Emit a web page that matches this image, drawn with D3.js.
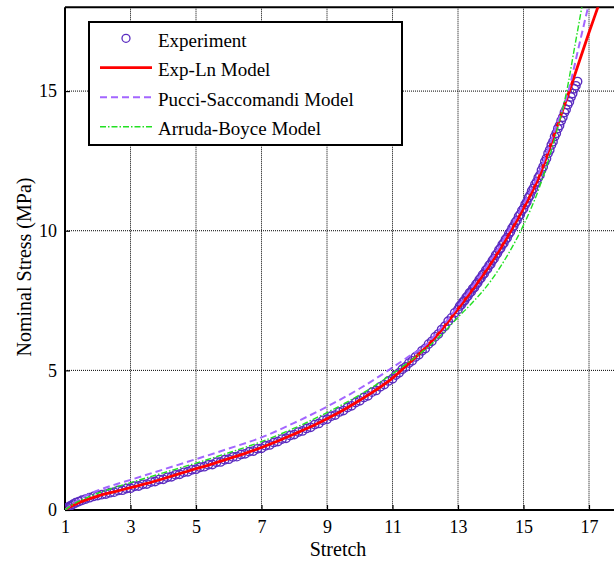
<!DOCTYPE html>
<html>
<head>
<meta charset="utf-8">
<script src="https://cdn.jsdelivr.net/npm/d3@7"></script>
<style>
  html, body { margin: 0; padding: 0; background: #fff; }
  svg { display: block; }
  text { font-family: "Liberation Serif", "Times New Roman", serif; fill: #000; }
</style>
</head>
<body>
<svg id="chart" width="614" height="564"></svg>
<script>
// ---------------- data ----------------
const xTicks = [1, 3, 5, 7, 9, 11, 13, 15, 17];
const yTicks = [0, 5, 10, 15];
const xLabel = "Stretch";
const yLabel = "Nominal Stress (MPa)";
const seriesNames = ["Experiment", "Exp-Ln Model", "Pucci-Saccomandi Model", "Arruda-Boyce Model"];

const expStretch = [
  1.0, 1.03, 1.07, 1.12, 1.18, 1.25, 1.33, 1.42, 1.52, 1.63, 1.75, 1.88, 2.0,
  2.125, 2.25, 2.375, 2.5, 2.625, 2.75, 2.875, 3.0, 3.125, 3.25, 3.375, 3.5, 3.625, 3.75, 3.875, 4.0,
  4.125, 4.25, 4.375, 4.5, 4.625, 4.75, 4.875, 5.0, 5.125, 5.25, 5.375, 5.5, 5.625, 5.75, 5.875, 6.0,
  6.125, 6.25, 6.375, 6.5, 6.625, 6.75, 6.875, 7.0, 7.125, 7.25, 7.375, 7.5, 7.625, 7.75, 7.875, 8.0,
  8.125, 8.25, 8.375, 8.5, 8.625, 8.75, 8.875, 9.0, 9.125, 9.25, 9.375, 9.5, 9.625, 9.75, 9.875, 10.0,
  10.125, 10.25, 10.375, 10.5, 10.625, 10.75, 10.875, 11.0,
  11.1, 11.2, 11.3, 11.4, 11.5, 11.6, 11.7, 11.8, 11.9, 12.0, 12.1, 12.2, 12.3, 12.4, 12.5, 12.6, 12.7, 12.8, 12.9, 13.0,
  13.05, 13.1, 13.15, 13.2, 13.25, 13.3, 13.35, 13.4, 13.45, 13.5,
  13.55, 13.6, 13.65, 13.7, 13.75, 13.8, 13.85, 13.9, 13.95, 14.0,
  14.05, 14.1, 14.15, 14.2, 14.25, 14.3, 14.35, 14.4, 14.45, 14.5,
  14.55, 14.6, 14.65, 14.7, 14.75, 14.8, 14.85, 14.9, 14.95, 15.0,
  15.05, 15.1, 15.15, 15.2, 15.25, 15.3, 15.35, 15.4, 15.45, 15.5,
  15.55, 15.6, 15.65, 15.7, 15.75, 15.8, 15.85, 15.9, 15.95, 16.0,
  16.05, 16.1, 16.15, 16.2, 16.25, 16.3, 16.35, 16.4, 16.45, 16.5, 16.55, 16.6, 16.65
];
const expStress = [
  0.0, 0.04, 0.08, 0.12, 0.16, 0.21, 0.26, 0.30, 0.35, 0.39, 0.44, 0.49, 0.52,
  0.55, 0.57, 0.62, 0.64, 0.70, 0.71, 0.77, 0.78, 0.85, 0.86, 0.92, 0.93, 1.00, 1.02, 1.09, 1.10,
  1.17, 1.19, 1.26, 1.28, 1.35, 1.37, 1.44, 1.46, 1.53, 1.55, 1.62, 1.63, 1.71, 1.72, 1.80, 1.82,
  1.90, 1.91, 1.99, 2.01, 2.09, 2.11, 2.19, 2.21, 2.30, 2.33, 2.42, 2.45, 2.54, 2.57, 2.67, 2.70,
  2.79, 2.83, 2.92, 2.96, 3.06, 3.10, 3.21, 3.25, 3.36, 3.40, 3.51, 3.56, 3.67, 3.73, 3.85, 3.91,
  4.03, 4.09, 4.22, 4.28, 4.41, 4.49, 4.62, 4.70,
  4.83, 4.91, 5.04, 5.12, 5.26, 5.34, 5.48, 5.56, 5.70, 5.78, 5.94, 6.04, 6.20, 6.30, 6.46, 6.58, 6.76, 6.88, 7.06, 7.18,
  7.30, 7.35, 7.45, 7.50, 7.61, 7.66, 7.77, 7.81, 7.92, 7.97,
  8.08, 8.14, 8.25, 8.31, 8.42, 8.47, 8.59, 8.64, 8.76, 8.81,
  8.93, 9.00, 9.12, 9.19, 9.31, 9.37, 9.50, 9.56, 9.69, 9.75,
  9.88, 9.96, 10.09, 10.17, 10.30, 10.37, 10.51, 10.58, 10.72, 10.79,
  10.94, 11.03, 11.18, 11.27, 11.42, 11.51, 11.66, 11.75, 11.90, 11.99,
  12.17, 12.29, 12.47, 12.59, 12.77, 12.89, 13.07, 13.19, 13.37, 13.49,
  13.66, 13.77, 13.94, 14.06, 14.23, 14.34, 14.51, 14.62, 14.79, 14.91, 15.08, 15.19, 15.34
];

const expLnModel = [
  [1, 0], [1.2, 0.14], [1.5, 0.3], [2, 0.5], [2.5, 0.65], [3, 0.8], [3.5, 0.95], [4, 1.12],
  [4.5, 1.3], [5, 1.48], [5.5, 1.65], [6, 1.84], [6.5, 2.03], [7, 2.24], [7.5, 2.47], [8, 2.72],
  [8.5, 2.98], [9, 3.27], [9.5, 3.58], [10, 3.93], [10.5, 4.3], [11, 4.72], [11.5, 5.25], [12, 5.8],
  [12.5, 6.45], [13, 7.2], [13.5, 7.98], [14, 8.82], [14.5, 9.76], [15, 10.8], [15.5, 12.0],
  [16, 13.65], [16.4, 15.0], [16.7, 16.05], [17, 17.1], [17.27, 18.0], [17.5, 18.8]
];
const pucciModel = [
  [1, 0], [1.2, 0.2], [1.5, 0.42], [2, 0.7], [2.5, 0.9], [3, 1.08], [4, 1.45], [5, 1.82],
  [6, 2.2], [7, 2.6], [8, 3.12], [9, 3.7], [10, 4.35], [11, 5.1], [11.5, 5.5], [12, 5.9],
  [12.5, 6.55], [13, 7.3], [13.5, 8.1], [14, 8.95], [14.5, 9.9], [15, 10.95], [15.5, 12.15],
  [16, 13.75], [16.37, 15.0], [16.7, 16.65], [16.97, 18.0], [17.1, 18.65]
];
const arrudaModel = [
  [1, 0], [1.2, 0.17], [1.5, 0.36], [2, 0.6], [2.5, 0.8], [3, 0.98], [4, 1.33], [5, 1.68],
  [6, 2.05], [7, 2.45], [8, 2.93], [9, 3.49], [10, 4.12], [11, 4.88], [11.5, 5.3], [12, 5.75],
  [12.5, 6.28], [13, 6.9], [13.5, 7.5], [14, 8.2], [14.5, 9.1], [15, 10.2], [15.5, 11.6],
  [16, 13.5], [16.32, 15.0], [16.55, 16.5], [16.78, 18.0], [16.9, 18.8]
];

// ---------------- layout ----------------
const svg = d3.select("#chart");
const mLeft = 65, mRight = 621.75, mTop = 7.3, mBottom = 510;
const x = d3.scaleLinear().domain([1, 18]).range([mLeft, mRight]);
const y = d3.scaleLinear().domain([0, 18]).range([mBottom, mTop]);

const colExp = "#5a2cc0", colRed = "#ff0000", colPucci = "#a366ff", colArruda = "#22e022";

svg.append("defs").append("clipPath").attr("id", "clip")
  .append("rect").attr("x", mLeft).attr("y", mTop).attr("width", mRight - mLeft).attr("height", mBottom - mTop);

// grid
const grid = svg.append("g");
grid.selectAll("line.gx").data(xTicks.slice(1)).join("line")
  .attr("x1", d => x(d)).attr("x2", d => x(d)).attr("y1", mTop).attr("y2", mBottom)
  .attr("stroke", "#000").attr("stroke-width", 1).attr("stroke-dasharray", "1,1");
grid.selectAll("line.gy").data(yTicks.slice(1)).join("line")
  .attr("x1", mLeft).attr("x2", mRight).attr("y1", d => y(d)).attr("y2", d => y(d))
  .attr("stroke", "#000").attr("stroke-width", 1).attr("stroke-dasharray", "1,1");

// axes
const xAxis = d3.axisBottom(x).tickValues(xTicks).tickSize(-5).tickPadding(10).tickFormat(d3.format("d"));
const yAxis = d3.axisLeft(y).tickValues(yTicks).tickSize(-5).tickPadding(8).tickFormat(d3.format("d"));
const gx = svg.append("g").attr("transform", `translate(0,${mBottom})`).call(xAxis);
const gy = svg.append("g").attr("transform", `translate(${mLeft},0)`).call(yAxis);
[gx, gy].forEach(g => {
  g.select(".domain").remove();
  g.selectAll(".tick line").attr("stroke", "#000").attr("stroke-width", 1.2);
  g.selectAll(".tick text").attr("font-family", "Liberation Serif, serif").attr("font-size", 18).attr("fill", "#000");
});

// frame
svg.append("line").attr("x1", mLeft).attr("x2", mLeft).attr("y1", mTop).attr("y2", mBottom).attr("stroke", "#000").attr("stroke-width", 2);
svg.append("line").attr("x1", mLeft).attr("x2", mRight).attr("y1", mBottom).attr("y2", mBottom).attr("stroke", "#000").attr("stroke-width", 2);
svg.append("line").attr("x1", mLeft).attr("x2", mRight).attr("y1", mTop).attr("y2", mTop).attr("stroke", "#000").attr("stroke-width", 2);

// data
const plot = svg.append("g").attr("clip-path", "url(#clip)");
const expPts = expStretch.map((s, i) => [s, expStress[i]]);
plot.selectAll("circle.exp").data(expPts).join("circle")
  .attr("cx", d => x(d[0])).attr("cy", d => y(d[1])).attr("r", 4.2)
  .attr("fill", "none").attr("stroke", colExp).attr("stroke-width", 1.4);

const line = d3.line().x(d => x(d[0])).y(d => y(d[1])).curve(d3.curveMonotoneX);
plot.append("path").datum(expLnModel).attr("d", line)
  .attr("fill", "none").attr("stroke", colRed).attr("stroke-width", 2.8);
plot.append("path").datum(pucciModel).attr("d", line)
  .attr("fill", "none").attr("stroke", colPucci).attr("stroke-width", 2).attr("stroke-dasharray", "7,4");
plot.append("path").datum(arrudaModel).attr("d", line)
  .attr("fill", "none").attr("stroke", colArruda).attr("stroke-width", 1.4).attr("stroke-dasharray", "6,2,1.5,2");

// labels
svg.append("text").attr("x", 338).attr("y", 556).attr("text-anchor", "middle")
  .attr("font-size", 20).text(xLabel);
svg.append("text").attr("transform", "translate(31,267) rotate(-90)").attr("text-anchor", "middle")
  .attr("font-size", 20).text(yLabel);

// legend
const lg = svg.append("g");
lg.append("rect").attr("x", 89).attr("y", 22).attr("width", 313).attr("height", 123)
  .attr("fill", "#fff").attr("stroke", "#000").attr("stroke-width", 2);
const rowY = [38.3, 67.7, 97.3, 126.7];
lg.append("circle").attr("cx", 126).attr("cy", rowY[0]).attr("r", 4)
  .attr("fill", "none").attr("stroke", colExp).attr("stroke-width", 1.3);
lg.append("line").attr("x1", 100).attr("x2", 152).attr("y1", rowY[1]).attr("y2", rowY[1])
  .attr("stroke", colRed).attr("stroke-width", 2.8);
lg.append("line").attr("x1", 100).attr("x2", 152).attr("y1", rowY[2]).attr("y2", rowY[2])
  .attr("stroke", colPucci).attr("stroke-width", 2).attr("stroke-dasharray", "7,4");
lg.append("line").attr("x1", 100).attr("x2", 152).attr("y1", rowY[3]).attr("y2", rowY[3])
  .attr("stroke", colArruda).attr("stroke-width", 1.4).attr("stroke-dasharray", "6,2,1.5,2");
lg.selectAll("text.leg").data(seriesNames).join("text")
  .attr("x", 158).attr("y", (d, i) => rowY[i] + 8.5)
  .attr("font-size", 19).text(d => d);
</script>
</body>
</html>
